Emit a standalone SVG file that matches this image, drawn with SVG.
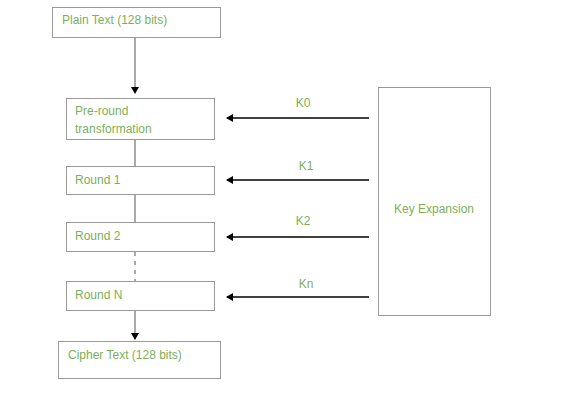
<svg xmlns="http://www.w3.org/2000/svg" width="570" height="400" viewBox="0 0 570 400">
<style>
.box{fill:#fff;stroke:#999;stroke-width:1}
.t{font-family:"Liberation Sans",Arial,sans-serif;font-size:12px;fill:#7DAF58}
.ln{stroke:#555;stroke-width:1;fill:none}
.ar{stroke:#000;stroke-width:1.6;fill:none;marker-end:url(#ah)}
</style>
<defs>
<marker id="ah" markerWidth="8" markerHeight="8" refX="6" refY="4" orient="auto" markerUnits="userSpaceOnUse">
<path d="M0,0 L7,4 L0,8 Z" fill="#000"/>
</marker>
</defs>
<rect width="570" height="400" fill="#fff"/>
<g id="connectors">
<line class="ln" x1="135" y1="38" x2="135" y2="93" marker-end="url(#ah)"/>
<line class="ln" x1="135" y1="140" x2="135" y2="166"/>
<line class="ln" x1="135" y1="195" x2="135" y2="222"/>
<line class="ln" x1="135" y1="252" x2="135" y2="281" stroke-dasharray="4,5"/>
<line class="ln" x1="135" y1="310" x2="135" y2="339" marker-end="url(#ah)"/>
<line class="ar" x1="369" y1="118" x2="227" y2="118"/>
<line class="ar" x1="369" y1="180" x2="227" y2="180"/>
<line class="ar" x1="369" y1="237" x2="227" y2="237"/>
<line class="ar" x1="369" y1="297" x2="227" y2="297"/>
<text class="t" x="303" y="107" text-anchor="middle">K0</text>
<text class="t" x="306" y="170" text-anchor="middle">K1</text>
<text class="t" x="303" y="225" text-anchor="middle">K2</text>
<text class="t" x="306" y="288" text-anchor="middle">Kn</text>
</g>
<g id="plain"><rect class="box" x="52.5" y="7.5" width="168" height="30"/><text class="t" x="62" y="24">Plain Text (128 bits)</text></g>
<g id="preround"><rect class="box" x="66.5" y="98.5" width="148" height="41"/><text class="t" x="75" y="115">Pre-round</text><text class="t" x="75" y="133">transformation</text></g>
<g id="round1"><rect class="box" x="66.5" y="166.5" width="148" height="28"/><text class="t" x="75" y="184">Round 1</text></g>
<g id="round2"><rect class="box" x="66.5" y="222.5" width="148" height="29"/><text class="t" x="75" y="240">Round 2</text></g>
<g id="roundN"><rect class="box" x="66.5" y="281.5" width="148" height="29"/><text class="t" x="75" y="299">Round N</text></g>
<g id="cipher"><rect class="box" x="58.5" y="341.5" width="162" height="37"/><text class="t" x="68" y="359">Cipher Text (128 bits)</text></g>
<g id="keyexp"><rect class="box" x="378.5" y="87.5" width="112" height="228"/><text class="t" x="434" y="213" text-anchor="middle">Key Expansion</text></g>
</svg>
